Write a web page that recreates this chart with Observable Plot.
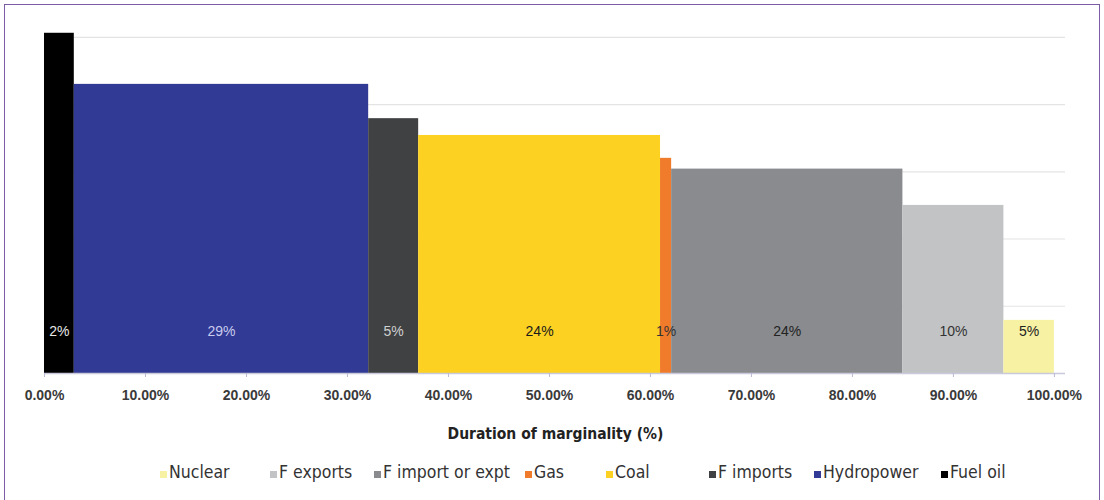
<!DOCTYPE html>
<html>
<head>
<meta charset="utf-8">
<script src="https://cdn.jsdelivr.net/npm/d3@7"></script>
<script src="https://cdn.jsdelivr.net/npm/@observablehq/plot@0.6"></script>
<style>
  body { margin: 0; background: #fff; width: 1104px; height: 500px; overflow: hidden; position: relative; }
  #frame { position: absolute; left: 4px; top: 4px; width: 1096px; height: 600px; border: 1.5px solid #7d5ba6; box-sizing: border-box; pointer-events: none; }
  #chart { position: absolute; left: 0; top: 0; }
  #xtitle { position: absolute; left: 0; width: 1111px; top: 425px; text-align: center; font-family: "DejaVu Sans Condensed", "DejaVu Sans", sans-serif; font-stretch: condensed; font-weight: bold; font-size: 15.5px; color: #222; }
  #legend { position: absolute; left: 0; width: 1104px; top: 462px; height: 26px; font-family: "DejaVu Sans Condensed", "DejaVu Sans", sans-serif; font-stretch: condensed; font-size: 17.5px; color: #333; }
  .item { position: absolute; top: 0; display: flex; align-items: center; white-space: nowrap; }
  .sw { width: 7px; height: 7px; margin-right: 2px; margin-top: 4px; }
</style>
</head>
<body>
<div id="chart"></div>
<div id="xtitle"></div>
<div id="legend"></div>
<div id="frame"></div>
<script>
// Segments in merit order along the x axis
const categories = ["Fuel oil", "Hydropower", "F imports", "Coal", "Gas", "F import or expt", "F exports", "Nuclear"];
const widths = [2.95, 29.15, 4.95, 23.95, 1.1, 22.9, 10.0, 5.0];      // share of duration (%)
const heights = [5.06, 4.30, 3.79, 3.54, 3.20, 3.04, 2.50, 0.79];      // bar height (grid units, unlabelled axis)
const shareLabels = ["2%", "29%", "5%", "24%", "1%", "24%", "10%", "5%"];
const colors = ["#000000", "#313a94", "#3f4143", "#fcd122", "#f07b2b", "#898b8e", "#c2c3c5", "#f6f1a3"];
const labelColors = ["#e8e8e8", "#c9cbee", "#d0d0d0", "#1a1a1a", "#333", "#222", "#333", "#222"];
const legendOrder = ["Nuclear", "F exports", "F import or expt", "Gas", "Coal", "F imports", "Hydropower", "Fuel oil"];
const xTicks = [0, 10, 20, 30, 40, 50, 60, 70, 80, 90, 100];
const gridTicks = [1, 2, 3, 4, 5];
const xTitle = "Duration of marginality (%)";

// layout (style): left edge in px of each legend entry, in legendOrder
const legendLeft = [160, 270, 374, 525, 606, 709, 814, 941];

let acc = 0;
const data = categories.map((c, i) => {
  const d = {cat: c, x1: acc, x2: acc + widths[i], h: heights[i], label: shareLabels[i], color: colors[i], lc: labelColors[i]};
  acc += widths[i];
  return d;
});

const chart = Plot.plot({
  width: 1104,
  height: 410,
  marginLeft: 44,
  marginRight: 39,
  marginTop: 20,
  marginBottom: 37,
  x: {domain: [0, 101.1], label: null},
  y: {domain: [0, 5.25], axis: null},
  style: {fontFamily: "Liberation Sans, Arial, sans-serif", fontSize: "14px", overflow: "visible"},
  marks: [
    Plot.gridY(gridTicks, {stroke: "#e4e4e4", strokeOpacity: 1, strokeWidth: 1.2}),
    Plot.rectY(data, {x1: "x1", x2: "x2", y1: 0, y2: "h", fill: "color", inset: 0}),
    Plot.ruleY([0], {stroke: "#c9c9dc", strokeWidth: 1.5}),
    Plot.axisX({ticks: xTicks, tickFormat: d => d.toFixed(2) + "%", stroke: "#b9b9d8", tickSize: 4, tickPadding: 13, fill: "#3a3a3a", fontWeight: "bold", fontSize: 14, label: null}),
    Plot.text(data, {x: d => (d.x1 + d.x2) / 2, y: 0, text: "label", fill: "lc", frameAnchor: "bottom", dy: -38, fontSize: 14, fontFamily: "Liberation Sans, Arial, sans-serif"})
  ]
});
document.getElementById("chart").appendChild(chart);

document.getElementById("xtitle").textContent = xTitle;

const colorOf = Object.fromEntries(categories.map((c, i) => [c, colors[i]]));
const legend = d3.select("#legend");
legendOrder.forEach((c, i) => {
  const it = legend.append("div").attr("class", "item").style("left", legendLeft[i] + "px");
  it.append("div").attr("class", "sw").style("background", colorOf[c]);
  it.append("span").text(c);
});
</script>
</body>
</html>
